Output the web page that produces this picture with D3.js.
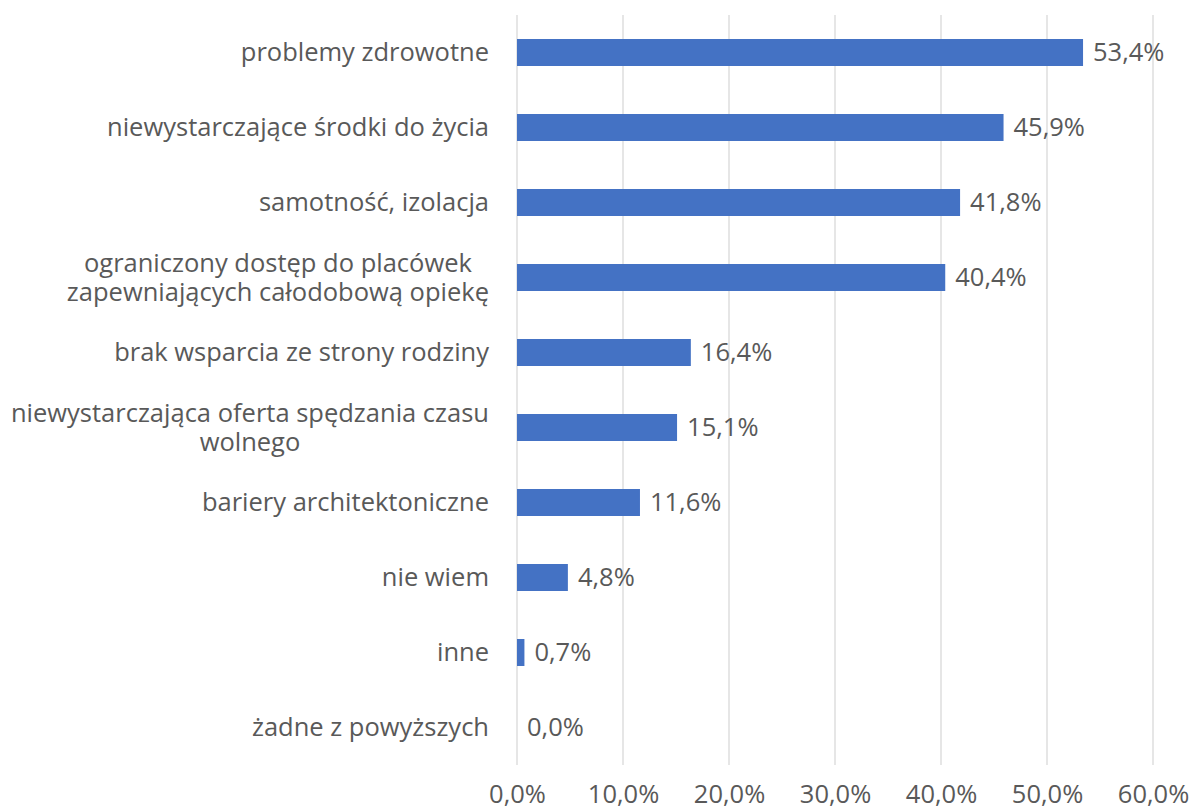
<!DOCTYPE html>
<html><head><meta charset="utf-8">
<script src="https://cdn.jsdelivr.net/npm/d3@7"></script>
<style>
html,body{margin:0;padding:0;background:#fff;}
svg text{font-family:"Open Sans","Liberation Sans",sans-serif;fill:#595959;}
</style></head>
<body>
<svg id="chart" width="1192" height="812"></svg>
<script>
const categories = [
  ["problemy zdrowotne"],
  ["niewystarczające środki do życia"],
  ["samotność, izolacja"],
  ["ograniczony dostęp do placówek", "zapewniających całodobową opiekę"],
  ["brak wsparcia ze strony rodziny"],
  ["niewystarczająca oferta spędzania czasu", "wolnego"],
  ["bariery architektoniczne"],
  ["nie wiem"],
  ["inne"],
  ["żadne z powyższych"]
];
const values = [53.4, 45.9, 41.8, 40.4, 16.4, 15.1, 11.6, 4.8, 0.7, 0.0];
const tickValues = [0, 10, 20, 30, 40, 50, 60];

(function () {
const fmt = v => v.toFixed(1).replace(".", ",") + "%";
const svg = d3.select("#chart");
const pLeft = 517, pRight = 1153, pTop = 15, pBottom = 765;
const fs = 25.5;

const x = d3.scaleLinear().domain([0, 60]).range([pLeft, pRight]);
const y = d3.scaleBand().domain(d3.range(categories.length)).range([pTop, pBottom]).paddingInner(0.64).paddingOuter(0.32);

// gridlines
svg.append("g").selectAll("line").data(tickValues).join("line")
  .attr("x1", d => x(d)).attr("x2", d => x(d))
  .attr("y1", pTop).attr("y2", pBottom)
  .attr("stroke", "#d9d9d9").attr("stroke-width", 1.3);

// x-axis tick labels
const xAxis = d3.axisBottom(x).tickValues(tickValues).tickFormat(d => fmt(d)).tickSize(0).tickPadding(0);
const gx = svg.append("g").attr("transform", `translate(0,${pBottom})`).call(xAxis);
gx.select(".domain").remove();
gx.selectAll("text").attr("font-size", fs).attr("dy", null).attr("y", 38)
  .style("font-family", '"Open Sans","Liberation Sans",sans-serif').attr("fill", "#595959");

// bars
svg.append("g").selectAll("rect").data(values).join("rect")
  .attr("x", x(0)).attr("y", (d, i) => y(i))
  .attr("width", d => x(d) - x(0)).attr("height", y.bandwidth())
  .attr("fill", "#4472c4");

// value labels
svg.append("g").selectAll("text").data(values).join("text")
  .attr("x", d => x(d) + 10).attr("y", (d, i) => y(i) + y.bandwidth() / 2)
  .attr("dy", "0.35em").attr("font-size", fs).text(d => fmt(d));

// category labels (multi-line labels centered within a right-aligned block)
const labelRight = 489, lineH = 29;
const lg = svg.append("g");
categories.forEach((lines, i) => {
  const cy = y(i) + y.bandwidth() / 2;
  const g = lg.append("g");
  const texts = lines.map((t, k) => g.append("text")
    .attr("font-size", fs).attr("text-anchor", "middle")
    .attr("y", cy + (k - (lines.length - 1) / 2) * lineH).attr("dy", "0.35em").text(t));
  const maxW = d3.max(texts, t => t.node().getComputedTextLength());
  texts.forEach(t => t.attr("x", labelRight - maxW / 2));
});
})();
</script>
</body></html>
